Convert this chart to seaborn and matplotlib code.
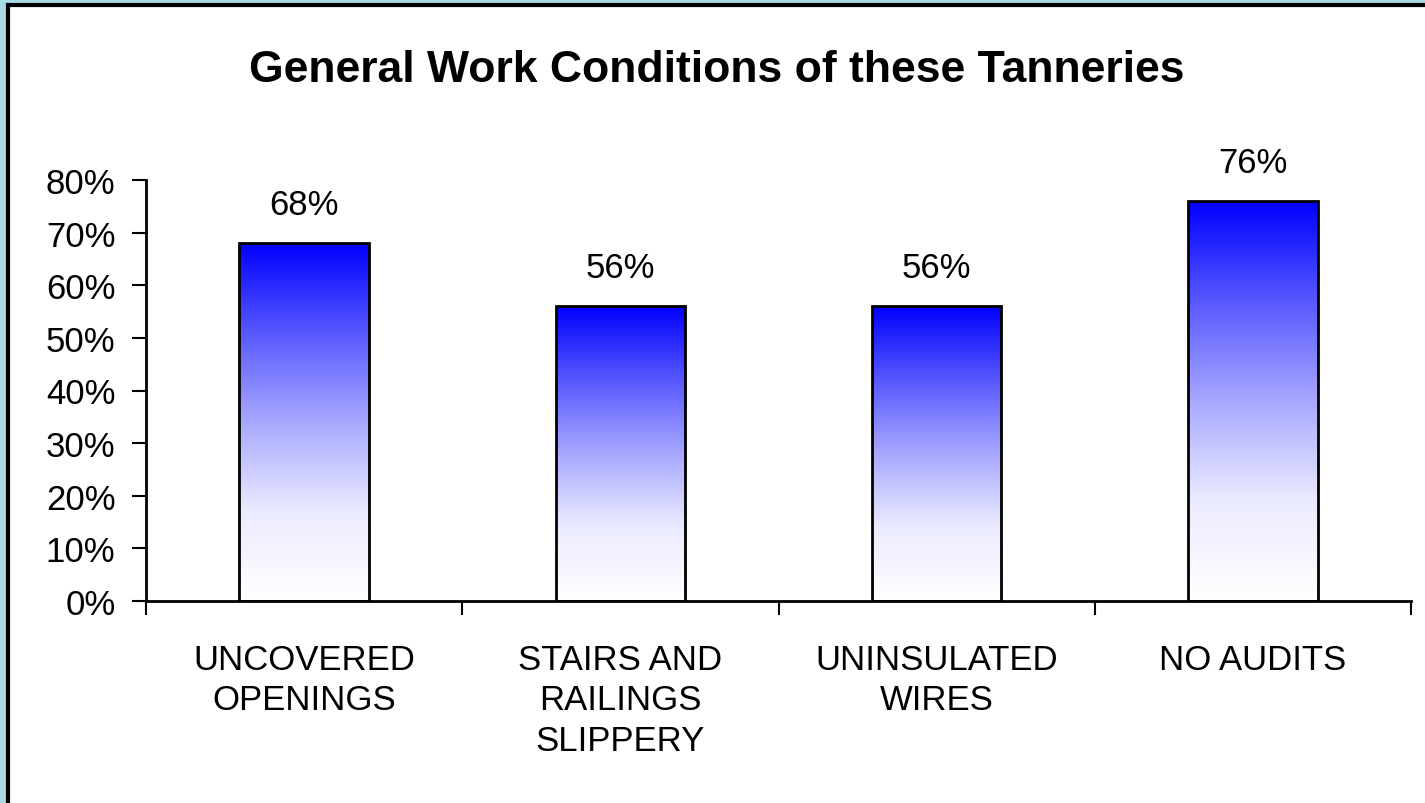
import numpy as np
import matplotlib
matplotlib.use("Agg")
import matplotlib.pyplot as plt
from matplotlib.colors import LinearSegmentedColormap
from matplotlib.patches import Rectangle
import seaborn as sns

# data
categories = ["UNCOVERED\nOPENINGS", "STAIRS AND\nRAILINGS\nSLIPPERY", "UNINSULATED\nWIRES", "NO AUDITS"]
values = [0.68, 0.56, 0.56, 0.76]
value_labels = ["68%", "56%", "56%", "76%"]
yticks = [0, 0.1, 0.2, 0.3, 0.4, 0.5, 0.6, 0.7, 0.8]

sns.set_style("white")
plt.rcParams['font.family'] = ['Liberation Sans', 'DejaVu Sans']
plt.rcParams['text.color'] = 'black'
plt.rcParams['xtick.color'] = 'black'
plt.rcParams['ytick.color'] = 'black'

fig = plt.figure(figsize=(14.25, 8.04), dpi=100, facecolor="#a8dbe5")
# white panel with black frame
fig.patches.append(Rectangle((8/1425, -0.01), 1.0, 1 - 6/804 + 0.01, transform=fig.transFigure,
                             facecolor="white", edgecolor="black", linewidth=3, zorder=-10))

ax = fig.add_axes([146/1425, 1 - 602/804, (1411 - 146)/1425, (602 - 181)/804])
ax.set_facecolor("none")

sns.barplot(x=categories, y=values, width=0.41, ax=ax, color="white", edgecolor="black", linewidth=2, zorder=3)

# gradient fill: white at the bottom, pure blue at the top
cmap = LinearSegmentedColormap.from_list(
    "bw", [(0, "white"), (0.25, "#ebebff"), (0.5, "#a8a8ff"), (0.75, "#5858ff"), (1, "#0000ff")])
grad = np.linspace(0, 1, 256).reshape(-1, 1)
for p in ax.patches:
    x0, w, h = p.get_x(), p.get_width(), p.get_height()
    p.set_facecolor("none")
    im = ax.imshow(grad, cmap=cmap, origin="lower", aspect="auto",
                   extent=[x0, x0 + w, 0, h], zorder=2)
    im.set_clip_path(p)

for p, lab in zip(ax.patches, value_labels):
    ax.annotate(lab, (p.get_x() + p.get_width() / 2, p.get_height()),
                xytext=(0, 16), textcoords="offset points", ha="center", va="bottom", fontsize=25)

ax.set_xlim(-0.5, 3.5)
ax.set_ylim(0, 0.8)
ax.set_yticks(yticks)
ax.set_yticklabels([f"{int(round(t*100))}%" for t in yticks], fontsize=25)
ax.set_xticks(range(len(categories)))
ax.set_xticklabels(categories, fontsize=25, linespacing=1.3, va="top")
ax.tick_params(axis="x", length=0, pad=30)
ax.tick_params(axis="y", length=10, width=1.5, color="black", direction="out", left=True, pad=12)
# category boundary ticks
ax.set_xticks(np.arange(-0.5, 4.0, 1.0), minor=True)
ax.tick_params(axis="x", which="minor", length=10, width=1.5, color="black", direction="out", bottom=True)

sns.despine(ax=ax)
for s in ["left", "bottom"]:
    ax.spines[s].set_color("black")
    ax.spines[s].set_linewidth(2)

fig.text(0.5 + 4/1425, 1 - 70/804, "General Work Conditions of these Tanneries", ha="center", va="center",
         fontsize=32, fontweight="bold")

fig.savefig("out.png", dpi=100, facecolor=fig.get_facecolor())
